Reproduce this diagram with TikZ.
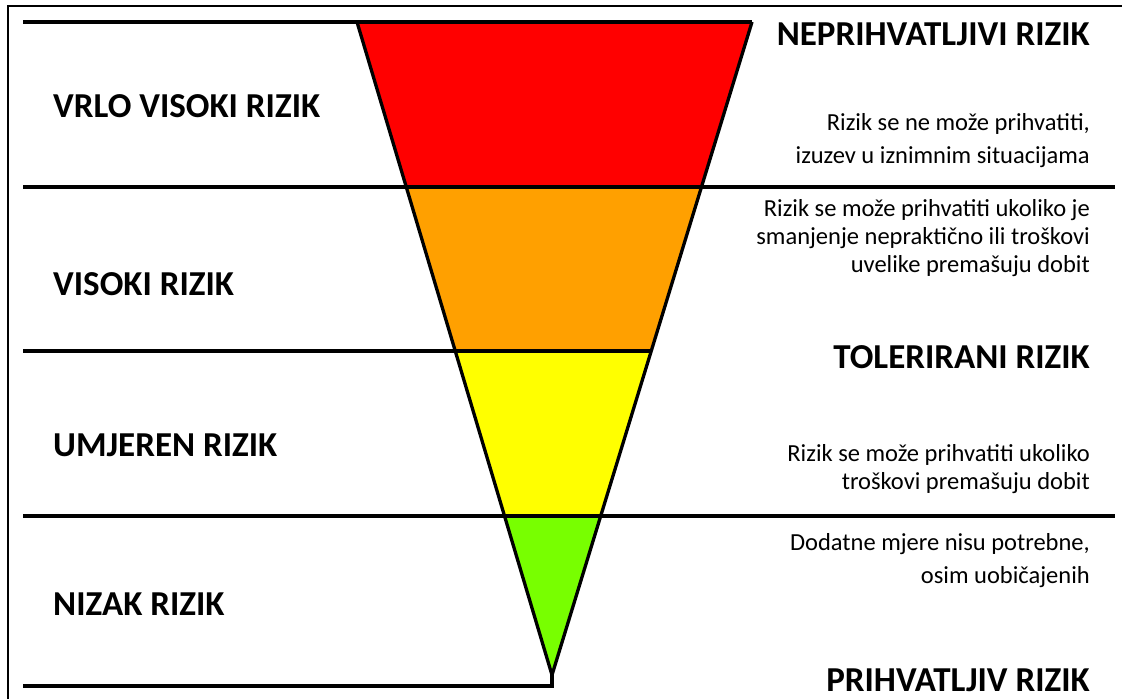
\documentclass[tikz,border=0pt]{standalone}
\usepackage{fontspec}
\setmainfont{Carlito}
\usetikzlibrary{calc}

\definecolor{riskred}{RGB}{255,0,0}
\definecolor{riskorange}{RGB}{255,160,0}
\definecolor{riskyellow}{RGB}{255,255,0}
\definecolor{riskgreen}{RGB}{120,255,0}

\begin{document}
\begin{tikzpicture}[x=1pt,y=-1pt,
  rule/.style={line width=3.3pt},
  level/.style={anchor=base west,inner sep=0pt,font=\fontsize{35}{40}\selectfont\bfseries},
  zone/.style={anchor=base east,inner sep=0pt,font=\fontsize{35}{40}\selectfont\bfseries},
  hint/.style={anchor=east,inner sep=0pt,align=right,font=\fontsize{24.5}{28}\selectfont}]
  \useasboundingbox (0,0) rectangle (1122,699);
  % frame
  \draw[line width=2.5pt] (8,699) -- (8,6) -- (1122,6);
  % funnel corners
  \coordinate (tl) at (357,22);
  \coordinate (tr) at (752,22);
  \coordinate (tip) at (552,675);
  \coordinate (l1) at (406.3,187);
  \coordinate (r1) at (701.5,187);
  \coordinate (l2) at (455.2,351);
  \coordinate (r2) at (651.2,351);
  \coordinate (l3) at (504.5,516);
  \coordinate (r3) at (600.7,516);
  \fill[riskred] (tl) -- (tr) -- (r1) -- (l1) -- cycle;
  \fill[riskorange] (l1) -- (r1) -- (r2) -- (l2) -- cycle;
  \fill[riskyellow] (l2) -- (r2) -- (r3) -- (l3) -- cycle;
  \fill[riskgreen] (l3) -- (r3) -- (tip) -- cycle;
  \draw[line width=3.3pt,line join=round] (tl) -- (tip) -- (tr);
  % rules
  \draw[rule] (23,22) -- (tr);
  \draw[rule] (23,187) -- (1115,187);
  \draw[rule] (23,351) -- (r2);
  \draw[rule] (23,516) -- (1115,516);
  \draw[rule] (23,686) -- (552,686) -- (tip);
  % levels
  \node[level] (vrlo) at (53,117) {VRLO VISOKI RIZIK};
  \node[level] (visoki) at (53,295) {VISOKI RIZIK};
  \node[level] (umjeren) at (53,456) {UMJEREN RIZIK};
  \node[level] (nizak) at (53,615) {NIZAK RIZIK};
  % zones
  \node[zone] (nepr) at (1090,45) {NEPRIHVATLJIVI RIZIK};
  \node[zone] (toler) at (1090,368) {TOLERIRANI RIZIK};
  \node[zone] (prihv) at (1090,691) {PRIHVATLJIV RIZIK};
  \node[hint,font=\fontsize{24.5}{33}\selectfont] (h1) at (1090,141)
    {Rizik se ne može prihvatiti,\\izuzev u iznimnim situacijama};
  \node[hint] (h2) at (1090,238)
    {Rizik se može prihvatiti ukoliko je\\smanjenje nepraktično ili troškovi\\uvelike premašuju dobit};
  \node[hint] (h3) at (1090,469)
    {Rizik se može prihvatiti ukoliko\\troškovi premašuju dobit};
  \node[hint,font=\fontsize{24.5}{33}\selectfont] (h4) at (1090,561)
    {Dodatne mjere nisu potrebne,\\osim uobičajenih};
\end{tikzpicture}
\end{document}
